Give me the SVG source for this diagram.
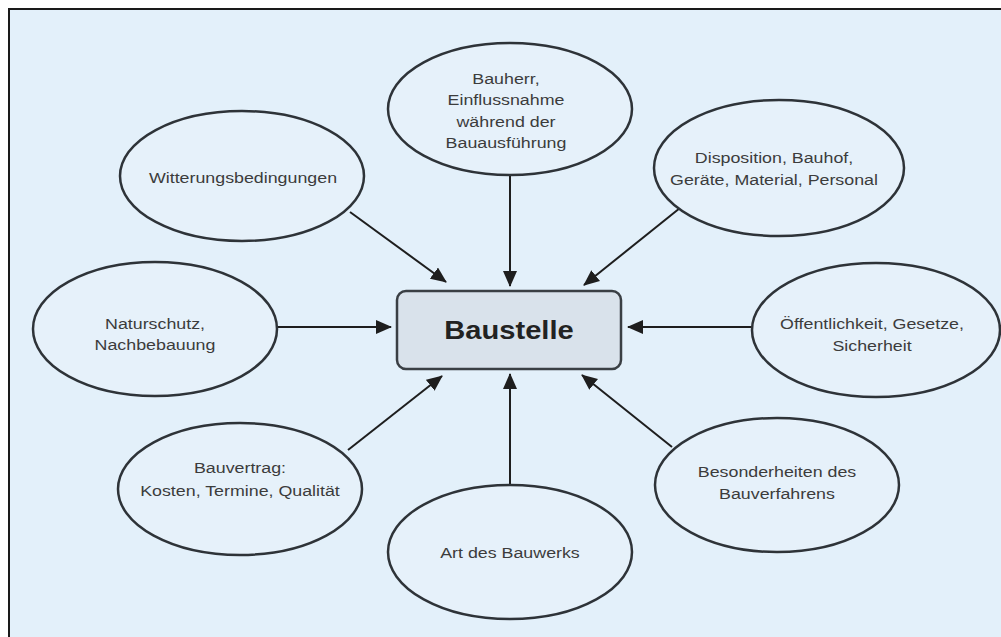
<svg xmlns="http://www.w3.org/2000/svg" width="1001" height="637" viewBox="0 0 1001 637">
<style>
.el{fill:#e6f1fa;stroke:#2e3338;stroke-width:2.5}
.t{font-family:"Liberation Sans",Arial,sans-serif;font-size:15.5px;fill:#3c3c3c;text-anchor:middle}
.c{stroke:#1e1e1e;stroke-width:2;fill:none;marker-end:url(#ah)}
</style>
<defs>
<marker id="ah" markerUnits="userSpaceOnUse" markerWidth="16" markerHeight="14" refX="15" refY="7" orient="auto">
<path d="M0,0 L16,7 L0,14 Z" fill="#1e1e1e"/>
</marker>
</defs>
<rect x="0" y="0" width="1001" height="637" fill="#ffffff"/>
<rect x="9" y="9" width="1000" height="640" fill="#e3f0fa" stroke="#1a1a1a" stroke-width="2"/>
<g id="connectors">
<line class="c" x1="350" y1="212" x2="446" y2="282"/>
<line class="c" x1="510" y1="176" x2="510" y2="286"/>
<line class="c" x1="680" y1="208" x2="584" y2="285"/>
<line class="c" x1="752" y1="327" x2="628" y2="327"/>
<line class="c" x1="277" y1="327" x2="391" y2="327"/>
<line class="c" x1="348" y1="450" x2="442" y2="376"/>
<line class="c" x1="510" y1="486" x2="510" y2="374"/>
<line class="c" x1="672" y1="447" x2="582" y2="375"/>
</g>
<g id="baustelle">
<rect x="397" y="291" width="224" height="78" rx="9" fill="#d9e2eb" stroke="#3a3f44" stroke-width="2.5"/>
<text transform="translate(509,339) scale(1.12,1)" x="0" y="0" style="font-family:'Liberation Sans',Arial,sans-serif;font-size:26px;font-weight:bold;fill:#222;text-anchor:middle">Baustelle</text>
</g>
<g id="witterung">
<ellipse class="el" cx="242" cy="176" rx="122" ry="65"/>
<text class="t" transform="translate(243,183) scale(1.15,1)">Witterungsbedingungen</text>
</g>
<g id="bauherr">
<ellipse class="el" cx="510" cy="109" rx="122" ry="66"/>
<text class="t" transform="translate(506,84) scale(1.15,1)"><tspan x="0" y="0">Bauherr,</tspan><tspan x="0" y="21.5">Einflussnahme</tspan><tspan x="0" y="43">während der</tspan><tspan x="0" y="64">Bauausführung</tspan></text>
</g>
<g id="disposition">
<ellipse class="el" cx="779" cy="168" rx="125" ry="68"/>
<text class="t" transform="translate(774,163) scale(1.15,1)"><tspan x="0" y="0">Disposition, Bauhof,</tspan><tspan x="0" y="22">Geräte, Material, Personal</tspan></text>
</g>
<g id="naturschutz">
<ellipse class="el" cx="155" cy="329" rx="122" ry="67"/>
<text class="t" transform="translate(155,329) scale(1.15,1)"><tspan x="0" y="0">Naturschutz,</tspan><tspan x="0" y="21">Nachbebauung</tspan></text>
</g>
<g id="oeffentlichkeit">
<ellipse class="el" cx="876" cy="330" rx="124" ry="67"/>
<text class="t" transform="translate(872,329) scale(1.15,1)"><tspan x="0" y="0">Öffentlichkeit, Gesetze,</tspan><tspan x="0" y="22">Sicherheit</tspan></text>
</g>
<g id="bauvertrag">
<ellipse class="el" cx="240" cy="489" rx="122" ry="66"/>
<text class="t" transform="translate(240,473) scale(1.15,1)"><tspan x="0" y="0">Bauvertrag:</tspan><tspan x="0" y="23">Kosten, Termine, Qualität</tspan></text>
</g>
<g id="art">
<ellipse class="el" cx="510" cy="552" rx="122" ry="67"/>
<text class="t" transform="translate(510,558) scale(1.15,1)">Art des Bauwerks</text>
</g>
<g id="besonderheiten">
<ellipse class="el" cx="777" cy="485" rx="122" ry="67"/>
<text class="t" transform="translate(777,477) scale(1.15,1)"><tspan x="0" y="0">Besonderheiten des</tspan><tspan x="0" y="22">Bauverfahrens</tspan></text>
</g>
</svg>
